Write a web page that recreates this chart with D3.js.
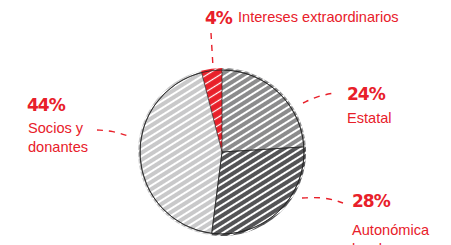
<!DOCTYPE html>
<html>
<head>
<meta charset="utf-8">
<script src="https://cdn.jsdelivr.net/npm/d3@7"></script>
<style>
  body { margin: 0; background: #fff; }
  svg { display: block; }
  .pct { font-family: "DejaVu Sans", sans-serif; font-weight: bold; font-size: 17px; fill: #e8202a; letter-spacing: -1px; }
  .lbl { font-family: "Liberation Sans", Arial, sans-serif; font-size: 14.6px; fill: #e8202a; }
</style>
</head>
<body>
<script>
// chart data
const categories = ["Estatal", "Autonómica", "Socios y donantes", "Intereses extraordinarios"];
const values = [24, 28, 44, 4];
const pctLabels = ["24%", "28%", "44%", "4%"];
const labelLines = [["Estatal"], ["Autonómica", "local"], ["Socios y", "donantes"], ["Intereses extraordinarios"]];
const colors = ["#8c8c8d", "#545456", "#c9c9ca", "#e8202a"];

const width = 451, height = 245;
const cx = 222, cy = 152, r = 82;

const svg = d3.select("body").append("svg")
    .attr("width", width)
    .attr("height", height);

//white hatch pattern for the scribble look
const defs = svg.append("defs");
const pat = defs.append("pattern")
    .attr("id", "hatch")
    .attr("patternUnits", "userSpaceOnUse")
    .attr("width", 6).attr("height", 6)
    .attr("patternTransform", "rotate(-32)");
pat.append("line")
    .attr("x1", 0).attr("y1", 3).attr("x2", 6).attr("y2", 3)
    .attr("stroke", "#fff").attr("stroke-width", 2);

//thinner hatch for the red slice so the red reads stronger
const patRed = defs.append("pattern")
    .attr("id", "hatchRed")
    .attr("patternUnits", "userSpaceOnUse")
    .attr("width", 7).attr("height", 7)
    .attr("patternTransform", "rotate(-32)");
patRed.append("line")
    .attr("x1", 0).attr("y1", 3.5).attr("x2", 7).attr("y2", 3.5)
    .attr("stroke", "#fff").attr("stroke-width", 1.2);

const pie = d3.pie().sort(null).value(d => d)(values);

const arcFill = d3.arc().innerRadius(0).outerRadius(r + 2);
const arcLine = d3.arc().innerRadius(0).outerRadius(r);

const g = svg.append("g").attr("transform", `translate(${cx},${cy})`);

g.selectAll("path.fill")
    .data(pie).join("path")
    .attr("class", "fill")
    .attr("d", arcFill)
    .attr("fill", (d, i) => colors[i]);

g.selectAll("path.hatch")
    .data(pie).join("path")
    .attr("class", "hatch")
    .attr("d", arcFill)
    .attr("fill", (d, i) => i == 3 ? "url(#hatchRed)" : "url(#hatch)");

//slice borders
g.selectAll("path.edge")
    .data(pie.slice(0, 3)).join("path")
    .attr("class", "edge")
    .attr("d", arcLine)
    .attr("fill", "none")
    .attr("stroke", "#222")
    .attr("stroke-width", 0.7);

g.append("circle")
    .attr("r", r)
    .attr("fill", "none")
    .attr("stroke", "#222")
    .attr("stroke-width", 0.8);

//annotation placement (label anchor, leader line points)
const labelPos = [[347, 100], [352, 207], [27, 111], [205, 24]];
const textPos = [[347, 123], [352, 235], [28, 133], [238, 22]];
const leaders = [
    [[303, 103], [318, 96], [334, 93]],
    [[302, 198], [325, 197], [343, 203]],
    [[97, 130], [113, 131], [128, 136]],
    [[211, 33], [212, 50], [213, 67]]
];

svg.selectAll("path.leader")
    .data(leaders).join("path")
    .attr("class", "leader")
    .attr("d", d3.line().curve(d3.curveBasis))
    .attr("fill", "none")
    .attr("stroke", "#e8202a")
    .attr("stroke-width", 1.4)
    .attr("stroke-dasharray", "6,6");

svg.selectAll("text.pct")
    .data(pctLabels).join("text")
    .attr("class", "pct")
    .attr("x", (d, i) => labelPos[i][0])
    .attr("y", (d, i) => labelPos[i][1])
    .text(d => d);

labelLines.forEach((lines, i) => {
    svg.append("text")
        .attr("class", "lbl")
        .attr("x", textPos[i][0])
        .attr("y", textPos[i][1])
        .selectAll("tspan")
        .data(lines).join("tspan")
        .attr("x", textPos[i][0])
        .attr("dy", (d, j) => j ? 19 : 0)
        .text(d => d);
});
</script>
</body>
</html>
